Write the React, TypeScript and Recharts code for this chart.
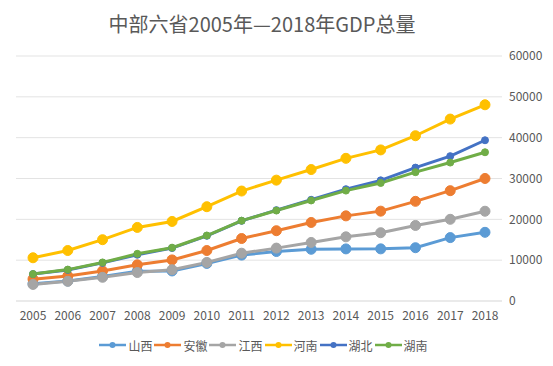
import React from 'react';
import { LineChart, Line, XAxis, YAxis, CartesianGrid, Legend } from 'recharts';

const years = ['2005','2006','2007','2008','2009','2010','2011','2012','2013','2014','2015','2016','2017','2018'];
const shanxi = [4231, 4879, 6024, 7315, 7358, 9201, 11238, 12113, 12665, 12761, 12766, 13050, 15528, 16818];
const anhui = [5350, 6112, 7361, 8852, 10063, 12359, 15301, 17212, 19229, 20849, 22006, 24408, 27018, 30007];
const jiangxi = [4057, 4821, 5800, 6971, 7655, 9451, 11703, 12949, 14339, 15715, 16724, 18499, 20006, 21985];
const henan = [10587, 12362, 15012, 18019, 19480, 23092, 26931, 29599, 32191, 34938, 37002, 40472, 44553, 48056];
const hubei = [6590, 7617, 9333, 11328, 12961, 15968, 19632, 22250, 24792, 27379, 29550, 32665, 35478, 39367];
const hunan = [6596, 7689, 9440, 11555, 13060, 16038, 19670, 22154, 24622, 27037, 28902, 31551, 33903, 36426];
const yTicks = [0, 10000, 20000, 30000, 40000, 50000, 60000];

const seriesList = [
  { key: 'shanxi', name: '山西', color: '#5B9BD5', values: shanxi, r: 5 },
  { key: 'anhui', name: '安徽', color: '#ED7D31', values: anhui, r: 5 },
  { key: 'jiangxi', name: '江西', color: '#A5A5A5', values: jiangxi, r: 5 },
  { key: 'henan', name: '河南', color: '#FFC000', values: henan, r: 5 },
  { key: 'hubei', name: '湖北', color: '#4472C4', values: hubei, r: 3.5 },
  { key: 'hunan', name: '湖南', color: '#70AD47', values: hunan, r: 3.5 },
];

const data = years.map((y, i) => {
  const row: Record<string, string | number> = { year: y };
  seriesList.forEach((s) => { row[s.key] = s.values[i]; });
  return row;
});

const FONT = '"Noto Sans CJK SC", "Noto Sans", sans-serif';

const LegendContent = () => (
  <div style={{ display: 'flex', justifyContent: 'center', alignItems: 'center', height: 24, fontFamily: FONT, fontSize: 12, color: '#595959', paddingRight: 40 }}>
    {seriesList.map((s) => (
      <div key={s.key} style={{ display: 'flex', alignItems: 'center', marginRight: 2 }}>
        <svg width={27} height={10} style={{ marginRight: 2 }}>
          <line x1={0} y1={5} x2={27} y2={5} stroke={s.color} strokeWidth={2.5} />
          <circle cx={13.5} cy={5} r={3} fill={s.color} />
        </svg>
        <span>{s.name}</span>
      </div>
    ))}
  </div>
);

export default function App() {
  return (
    <div style={{ position: 'absolute', left: 0, top: 0, width: 553, height: 366, background: '#fff' }}>
      <div style={{ position: 'absolute', left: 0, top: 10, width: 524, textAlign: 'center', fontFamily: FONT, fontSize: 20, color: '#595959', lineHeight: '28px' }}>
        中部六省2005年—2018年GDP总量
      </div>
      <LineChart width={553} height={366} data={data} margin={{ top: 56, right: 0, bottom: 9, left: 16 }}>
        <CartesianGrid vertical={false} stroke="#E3E3E3" strokeWidth={1} />
        <XAxis dataKey="year" axisLine={{ stroke: '#E3E3E3' }} tickLine={false} height={32} tickMargin={4}
          padding={{ left: 17, right: 17 }}
          tick={{ fontSize: 12, fill: '#595959', fontFamily: FONT }} interval={0} />
        <YAxis orientation="right" width={51} domain={[0, 60000]} ticks={yTicks} axisLine={false} tickLine={false}
          tickMargin={1} tick={{ fontSize: 12, fill: '#595959', fontFamily: FONT }} />
        <Legend verticalAlign="bottom" content={<LegendContent />} />
        {seriesList.map((s) => (
          <Line key={s.key} type="linear" dataKey={s.key} name={s.name} stroke={s.color} strokeWidth={3}
            dot={{ r: s.r, fill: s.color, stroke: s.color, strokeWidth: 1 }} activeDot={false} isAnimationActive={false} />
        ))}
      </LineChart>
    </div>
  );
}
